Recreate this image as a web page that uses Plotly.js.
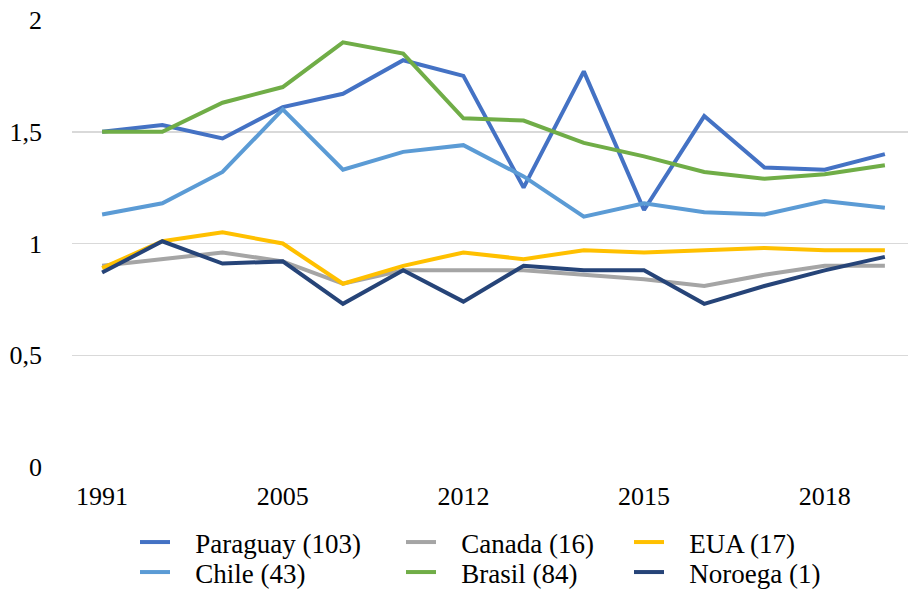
<!DOCTYPE html>
<html>
<head>
<meta charset="utf-8">
<script src="https://cdn.plot.ly/plotly-3.0.1.min.js"></script>
<style>html,body{margin:0;padding:0;background:#fff;}#chart{width:908px;height:589px;}</style>
</head>
<body>
<div id="chart"></div>
<script>
const years = ['1991','1995','2000','2005','2008','2010','2012','2013','2014','2015','2016','2017','2018','2019'];
const shownYears = ['1991','2005','2012','2015','2018'];

const paraguay = [1.50, 1.53, 1.47, 1.61, 1.67, 1.82, 1.75, 1.25, 1.77, 1.15, 1.57, 1.34, 1.33, 1.40];
const canada   = [0.90, 0.93, 0.96, 0.92, 0.82, 0.88, 0.88, 0.88, 0.86, 0.84, 0.81, 0.86, 0.90, 0.90];
const eua      = [0.89, 1.01, 1.05, 1.00, 0.82, 0.90, 0.96, 0.93, 0.97, 0.96, 0.97, 0.98, 0.97, 0.97];
const chile    = [1.13, 1.18, 1.32, 1.60, 1.33, 1.41, 1.44, 1.30, 1.12, 1.18, 1.14, 1.13, 1.19, 1.16];
const brasil   = [1.50, 1.50, 1.63, 1.70, 1.90, 1.85, 1.56, 1.55, 1.45, 1.39, 1.32, 1.29, 1.31, 1.35];
const noroega  = [0.87, 1.01, 0.91, 0.92, 0.73, 0.88, 0.74, 0.90, 0.88, 0.88, 0.73, 0.81, 0.88, 0.94];

const seriesNames = ['Paraguay (103)', 'Canada (16)', 'EUA (17)', 'Chile (43)', 'Brasil (84)', 'Noroega (1)'];

const FONT = '"Liberation Serif", "Times New Roman", Times, serif';
const pad = '\u00A0\u00A0\u00A0';
function tr(name, y, color, legend) {
  return {
    type: 'scatter', mode: 'lines', x: years, y: y, name: pad + name,
    line: {color: color, width: 4}, legend: legend, hoverinfo: 'skip'
  };
}

const data = [
  tr(seriesNames[0], paraguay, '#4472C4', 'legend'),
  tr(seriesNames[1], canada, '#A5A5A5', 'legend2'),
  tr(seriesNames[2], eua, '#FFC000', 'legend3'),
  tr(seriesNames[3], chile, '#5B9BD5', 'legend4'),
  tr(seriesNames[4], brasil, '#70AD47', 'legend5'),
  tr(seriesNames[5], noroega, '#264478', 'legend6')
];

const legendBase = {
  orientation: 'v', xref: 'container', yref: 'container', xanchor: 'left', yanchor: 'top',
  font: {family: FONT, size: 27, color: '#000'},
  bgcolor: 'rgba(0,0,0,0)', borderwidth: 0, tracegroupgap: 0, traceorder: 'normal'
};
function lg(px, py) { return Object.assign({}, legendBase, {x: px/908, y: 1 - py/589}); }

const layout = {
  width: 908, height: 589,
  margin: {l: 72, r: 0, t: 20, b: 122, autoexpand: false},
  paper_bgcolor: '#fff', plot_bgcolor: '#fff',
  separators: ', ',
  font: {family: FONT, size: 26, color: '#000'},
  showlegend: true,
  xaxis: {
    type: 'category', range: [-0.5, 13.384], automargin: false,
    tickmode: 'array', tickvals: shownYears, ticktext: shownYears, tickangle: 0,
    showgrid: false, zeroline: false, showline: false, ticks: '',
    ticklabelstandoff: 11,
    tickfont: {family: FONT, size: 26, color: '#000'}
  },
  yaxis: {
    range: [0, 2], dtick: 0.5, tick0: 0, automargin: false,
    showgrid: true, gridcolor: '#d9d9d9', gridwidth: 1.5,
    zeroline: false, showline: false, ticks: '',
    ticklabelstandoff: 29,
    tickfont: {family: FONT, size: 26, color: '#000'}
  },
  legend:  lg(135, 518),
  legend2: lg(401, 518),
  legend3: lg(629, 518),
  legend4: lg(135, 548),
  legend5: lg(401, 548),
  legend6: lg(629, 548)
};

Plotly.newPlot('chart', data, layout, {displayModeBar: false, staticPlot: true});
</script>
</body>
</html>
